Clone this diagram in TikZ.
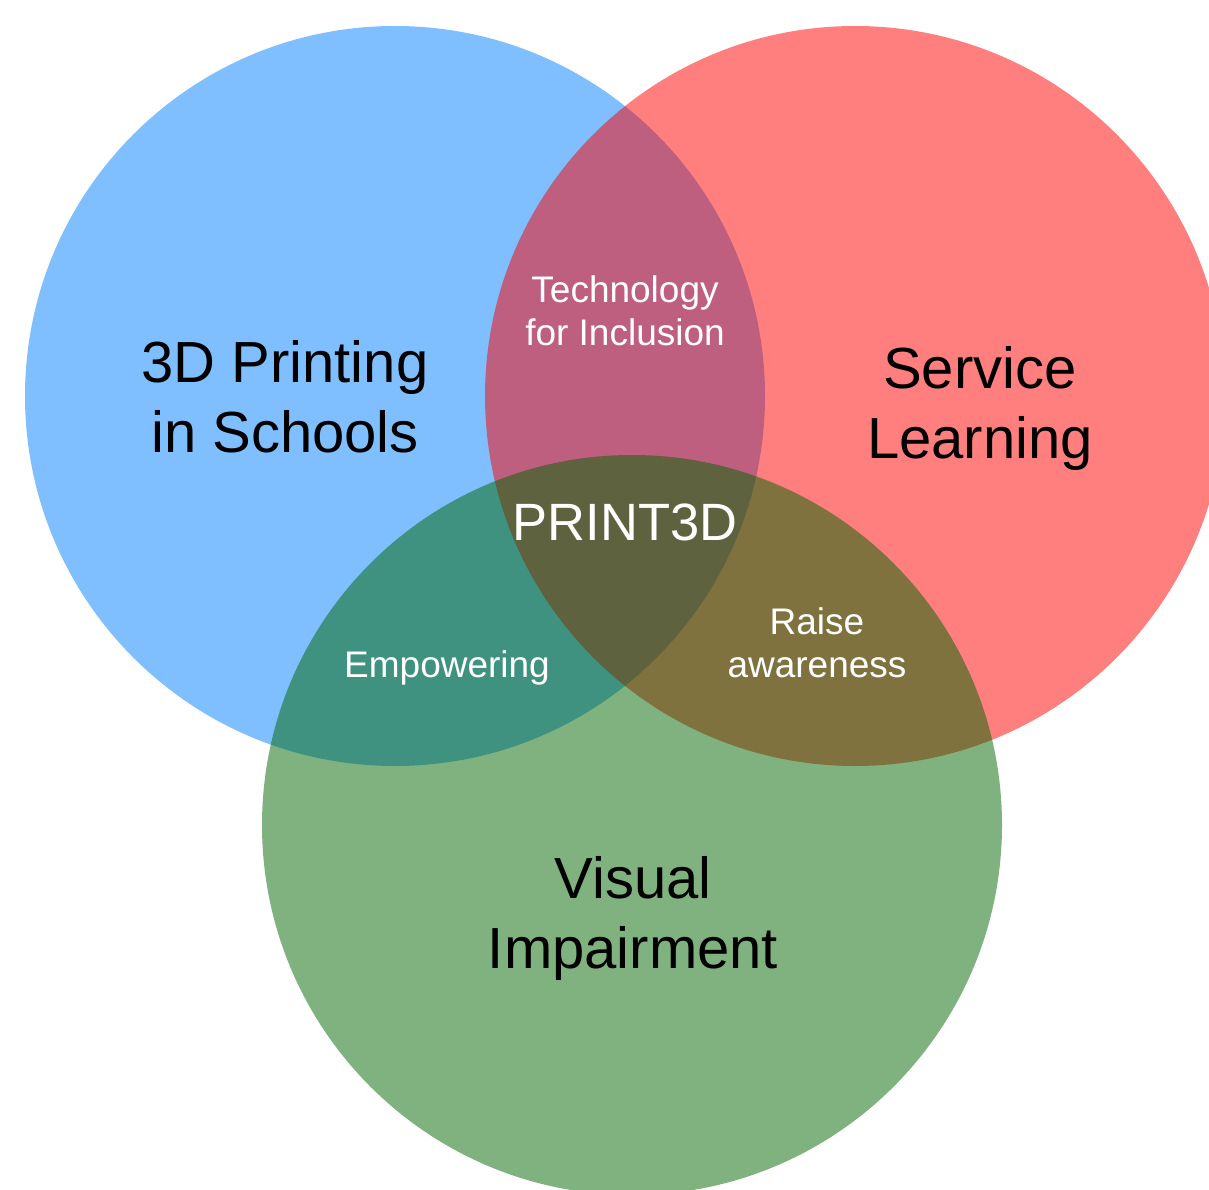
\documentclass[tikz,border=0pt]{standalone}
\usepackage{fontspec}
\setmainfont{Liberation Sans}
\begin{document}
\begin{tikzpicture}[x=1pt,y=-1pt,
  disc/.style={opacity=0.5},
  big/.style={font=\fontsize{58}{70}\selectfont,align=center,anchor=base,text=black,inner sep=0pt},
  mid/.style={font=\fontsize{52.5}{60}\selectfont,align=center,anchor=base,text=white,inner sep=0pt},
  small/.style={font=\fontsize{37}{43}\selectfont,align=center,anchor=base,text=white,inner sep=0pt}]
\useasboundingbox (0,0) rectangle (1209,1190);
\clip (0,0) rectangle (1209,1190);
\definecolor{cblue}{HTML}{0080FF}
\definecolor{cred}{HTML}{FF0000}
\definecolor{cgreen}{HTML}{006600}
\fill[cblue,disc] (395,396) circle (370);
\fill[cred,disc] (855,396) circle (370);
\fill[cgreen,disc] (632,825) circle (370);
\node[big] (school) at (285,452) {3D Printing\\in Schools};
\node[big] (service) at (980,458) {Service\\Learning};
\node[big] (visual) at (633,968) {Visual\\Impairment};
\node[mid] (print) at (625,540) {PRINT3D};
\node[small] (tech) at (625,345) {Technology\\for Inclusion};
\node[small] (emp) at (447,677) {Empowering};
\node[small] (raise) at (817,677) {Raise\\awareness};
\end{tikzpicture}
\end{document}
